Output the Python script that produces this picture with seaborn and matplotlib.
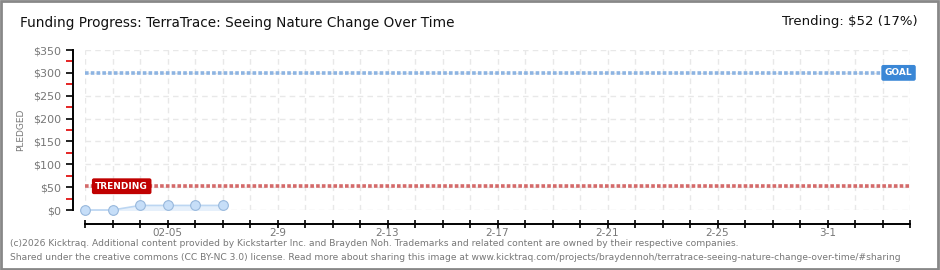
import matplotlib
matplotlib.use("Agg")
import matplotlib.pyplot as plt
import seaborn as sns
import pandas as pd
from matplotlib.patches import Rectangle

# ---- data ----
dates = ["2026-02-02", "2026-02-03", "2026-02-04", "2026-02-05", "2026-02-06", "2026-02-07"]
pledged = [0, 0, 10, 10, 10, 10]
goal = 300
trending = 52
trending_pct = 17
x_start = "2026-02-02"
x_end = "2026-03-04"
tick_dates = ["2026-02-05", "2026-02-09", "2026-02-13", "2026-02-17", "2026-02-21", "2026-02-25", "2026-03-01"]
tick_labels = ["02-05", "2-9", "2-13", "2-17", "2-21", "2-25", "3-1"]
y_ticks = [0, 50, 100, 150, 200, 250, 300, 350]
y_tick_labels = ["$0", "$50", "$100", "$150", "$200", "$250", "$300", "$350"]
title = "Funding Progress: TerraTrace: Seeing Nature Change Over Time"
footer1 = "(c)2026 Kicktraq. Additional content provided by Kickstarter Inc. and Brayden Noh. Trademarks and related content are owned by their respective companies."
footer2 = "Shared under the creative commons (CC BY-NC 3.0) license. Read more about sharing this image at www.kicktraq.com/projects/braydennoh/terratrace-seeing-nature-change-over-time/#sharing"

df = pd.DataFrame({"date": pd.to_datetime(dates), "pledged": pledged})

sns.set_theme(style="white")
plt.rcParams['font.family'] = ['DejaVu Sans']

W, H = 940, 270
fig = plt.figure(figsize=(W / 100, H / 100), dpi=100)
fig.patch.set_facecolor("white")

# axes: data region x 85..910, y 50..210 (pixels from top)
ax = fig.add_axes([85 / W, (H - 210) / H, (910 - 85) / W, (210 - 50) / H])
ax.set_facecolor("white")

x0 = pd.Timestamp(x_start)
x1 = pd.Timestamp(x_end)
ax.set_xlim(x0, x1)
ax.set_ylim(0, 350)

all_days = pd.date_range(x0, x1, freq="D")
ax.set_xticks(all_days, minor=True)
ax.set_xticks(pd.to_datetime(tick_dates))
ax.set_xticklabels(tick_labels)
ax.set_yticks(y_ticks)
ax.set_yticklabels(y_tick_labels)
ax.set_yticks([25, 75, 125, 175, 225, 275, 325], minor=True)
ax.grid(False)
for d in all_days:
    ax.axvline(d, color="#e8e8e8", lw=1, ls=(0, (4, 3)), zorder=0)
for v in y_ticks:
    ax.axhline(v, color="#e8e8e8", lw=1, ls=(0, (4, 3)), zorder=0)

# goal & trending lines
ax.axhline(goal, color="#8db4e2", lw=2.6, ls=(0, (1, 0.6)), zorder=2)
ax.axhline(trending, color="#d46a6a", lw=2.6, ls=(0, (1, 0.6)), zorder=2)

# fill and line
ax.fill_between(df["date"], df["pledged"], 0, color="#e6f0fb", zorder=3)
sns.lineplot(data=df, x="date", y="pledged", ax=ax, color="#bcd6f2", lw=1.2,
             marker="o", markersize=7, markerfacecolor="#c6def8",
             markeredgecolor="#98b8dc", markeredgewidth=0.8, zorder=4, clip_on=False)
ax.set_xlabel("")
ax.set_ylabel("PLEDGED", color="#777777", fontsize=6.5, labelpad=6)

# spines
for s in ["top", "right"]:
    ax.spines[s].set_visible(False)
ax.spines["left"].set_position(("outward", 9))
ax.spines["bottom"].set_position(("outward", 10))
ax.spines["left"].set_color("black")
ax.spines["bottom"].set_color("black")
ax.spines["left"].set_linewidth(1.4)
ax.spines["bottom"].set_linewidth(1.4)

ax.tick_params(axis="y", which="major", direction="out", length=5, width=1.2, color="black",
               labelsize=8, labelcolor="#777777", pad=3, left=True)
ax.tick_params(axis="y", which="minor", direction="out", length=5, width=1.2, color="#e00000", left=True)
ax.tick_params(axis="x", which="both", direction="inout", length=6, width=1.2, color="black",
               labelsize=7.5, labelcolor="#777777", pad=0, bottom=True)

# labels
ax.text(pd.Timestamp("2026-02-02 09:00"), trending, "TRENDING", color="white", fontsize=6.5,
        fontweight="bold", va="center", ha="left", zorder=6,
        bbox=dict(boxstyle="round,pad=0.3,rounding_size=0.15", fc="#c00000", ec="#c00000"))
ax.text(pd.Timestamp("2026-03-03 14:00"), goal, "GOAL", color="white", fontsize=6.5,
        fontweight="bold", va="center", ha="center", zorder=6,
        bbox=dict(boxstyle="round,pad=0.3,rounding_size=0.15", fc="#3a87d6", ec="#3a87d6"))

# titles
fig.text(20 / W, 1 - 23 / H, title, fontsize=9.8, color="#111111", va="center", ha="left")
fig.text(918 / W, 1 - 22 / H, f"Trending: ${trending} ({trending_pct}%)", fontsize=9.5,
         color="#111111", va="center", ha="right")

# footer
fig.text(10 / W, 1 - 243 / H, footer1, fontsize=6.6, color="#777777", va="center", ha="left")
fig.text(10 / W, 1 - 257 / H, footer2, fontsize=6.6, color="#777777", va="center", ha="left")

# border
fig.patches.append(Rectangle((0.001, 0.002), 0.997, 0.996, transform=fig.transFigure,
                             fill=False, ec="#888888", lw=2))

fig.savefig("out.png", dpi=100)
